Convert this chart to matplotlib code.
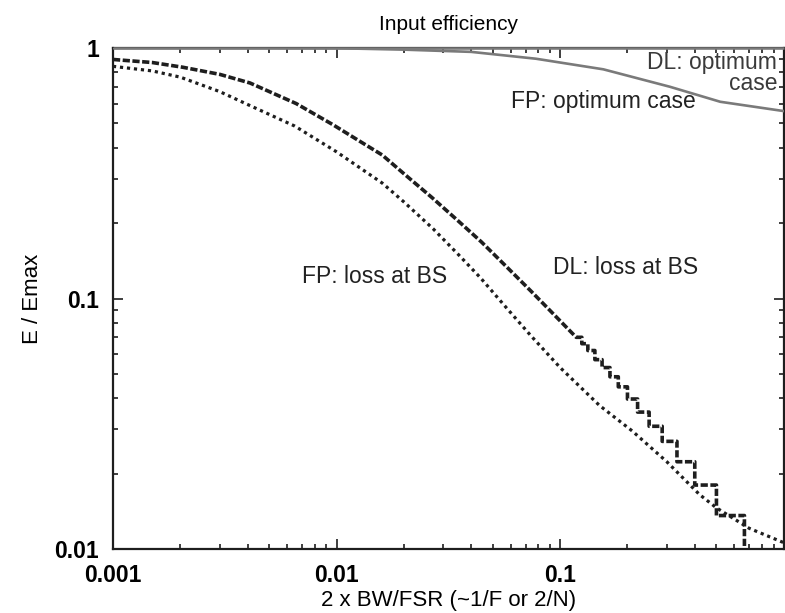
import matplotlib
matplotlib.use('Agg')
import matplotlib.pyplot as plt
from matplotlib.ticker import FixedLocator, FixedFormatter, LogLocator, NullFormatter

plt.rcParams['font.family'] = ['Liberation Sans', 'DejaVu Sans']

# ---------------- data ----------------
title = "Input efficiency"
xlabel = "2 x BW/FSR (~1/F or 2/N)"
ylabel = "E / Emax"

x_ticks = [0.001, 0.01, 0.1, 1.0]
x_tick_labels = ["0.001", "0.01", "0.1", ""]
y_ticks = [0.01, 0.1, 1.0]
y_tick_labels = ["0.01", "0.1", "1"]

# DL: optimum case (stays at 1)
dl_opt_x = [0.001, 1.0]
dl_opt_y = [1.0, 1.0]

# FP: optimum case
fp_opt_x = [0.001, 0.005, 0.01, 0.02, 0.04, 0.078, 0.156, 0.31, 0.52, 1.0]
fp_opt_y = [1.0, 1.0, 0.998, 0.985, 0.965, 0.906, 0.822, 0.70, 0.61, 0.56]

# FP: loss at BS
fp_loss_x = [0.001, 0.0015, 0.002, 0.003, 0.004, 0.0065, 0.01, 0.013, 0.016, 0.02,
             0.027, 0.035, 0.044, 0.058, 0.074, 0.1, 0.15, 0.21, 0.3, 0.42, 0.5, 0.7, 1.0]
fp_loss_y = [0.845, 0.81, 0.765, 0.67, 0.595, 0.488, 0.385, 0.328, 0.289, 0.243,
             0.19, 0.15, 0.121, 0.091, 0.071, 0.053, 0.0374, 0.0296, 0.0223, 0.0165,
             0.0146, 0.0121, 0.0106]

# DL: loss at BS, smooth part
dl_loss_x = [0.001, 0.0015, 0.00205, 0.003, 0.0041, 0.0066, 0.0096, 0.013, 0.016, 0.02,
             0.0267, 0.035, 0.0445, 0.058, 0.0743, 0.0884, 0.1, 0.118]
dl_loss_y = [0.90, 0.875, 0.838, 0.785, 0.725, 0.6, 0.495, 0.419, 0.374, 0.315,
             0.253, 0.204, 0.168, 0.133, 0.1067, 0.0911, 0.0814, 0.070]

# DL: loss at BS, staircase part (edges at 2/N, one level per interval)
dl_step_edges = [0.118, 0.125, 0.133, 0.143, 0.154, 0.167, 0.182, 0.2, 0.222,
                 0.25, 0.286, 0.333, 0.4, 0.5, 0.667]
dl_step_levels = [0.070, 0.066, 0.062, 0.057, 0.053, 0.0487, 0.0444, 0.0397,
                  0.0352, 0.0309, 0.0269, 0.0223, 0.018, 0.0136]
dl_step_floor = 0.005

# ---------------- figure ----------------
fig = plt.figure(figsize=(7.85, 6.13), dpi=100)
ax = fig.add_axes([0.1439, 0.1044, 0.8545, 0.8173])
ax.set_xscale('log')
ax.set_yscale('log')
ax.set_xlim(0.001, 1.0)
ax.set_ylim(0.01, 1.0)

grey = '#7a7a7a'
dark = '#1e1e1e'

ax.plot(dl_opt_x, dl_opt_y, color=grey, lw=1.8, solid_capstyle='butt', clip_on=False, zorder=3)
ax.plot(fp_opt_x, fp_opt_y, color=grey, lw=1.9, zorder=3)

ax.plot(fp_loss_x, fp_loss_y, color=dark, lw=2.3, linestyle=(0, (1.0, 1.2)),
        dash_capstyle='butt', zorder=4)

# DL loss: smooth part + staircase
sx = list(dl_loss_x)
sy = list(dl_loss_y)
for i, lev in enumerate(dl_step_levels):
    sx += [dl_step_edges[i], dl_step_edges[i + 1]]
    sy += [lev, lev]
sx.append(dl_step_edges[-1])
sy.append(dl_step_floor)
ax.plot(sx, sy, color=dark, lw=2.6, linestyle=(0, (2.0, 0.7)),
        dash_capstyle='butt', zorder=4)

# annotations
fs_txt = 16.5
ax.text(0.99, 0.995, "DL: optimum\ncase", transform=ax.transAxes, ha='right', va='top',
        fontsize=fs_txt, color='#3a3a3a', linespacing=0.9)
ax.text(0.594, 0.894, "FP: optimum case", transform=ax.transAxes, ha='left', va='center',
        fontsize=fs_txt, color='#222222')
ax.text(0.282, 0.543, "FP: loss at BS", transform=ax.transAxes, ha='left', va='center',
        fontsize=fs_txt, color='#222222')
ax.text(0.656, 0.561, "DL: loss at BS", transform=ax.transAxes, ha='left', va='center',
        fontsize=fs_txt, color='#222222')

# axes styling
for s in ax.spines.values():
    s.set_linewidth(1.6)
    s.set_color(dark)

ax.xaxis.set_major_locator(FixedLocator(x_ticks))
ax.xaxis.set_major_formatter(FixedFormatter(x_tick_labels))
ax.yaxis.set_major_locator(FixedLocator(y_ticks))
ax.yaxis.set_major_formatter(FixedFormatter(y_tick_labels))
ax.xaxis.set_minor_locator(LogLocator(base=10, subs=range(2, 10)))
ax.yaxis.set_minor_locator(LogLocator(base=10, subs=range(2, 10)))
ax.xaxis.set_minor_formatter(NullFormatter())
ax.yaxis.set_minor_formatter(NullFormatter())

ax.tick_params(which='both', direction='in', top=True, right=True, color=dark, width=1.2)
ax.tick_params(which='major', length=7)
ax.tick_params(which='minor', length=3.5)
ax.tick_params(axis='x', which='major', pad=11, labelsize=16.5)
ax.tick_params(axis='y', which='major', pad=10, labelsize=16.5)
for lab in ax.get_xticklabels() + ax.get_yticklabels():
    lab.set_fontweight('bold')

ax.set_title(title, fontsize=15, pad=13)
ax.set_xlabel(xlabel, fontsize=16, labelpad=2)
ax.set_ylabel(ylabel, fontsize=16)
ax.yaxis.set_label_coords(-0.105, 0.5)

fig.savefig('out.png', dpi=100)
